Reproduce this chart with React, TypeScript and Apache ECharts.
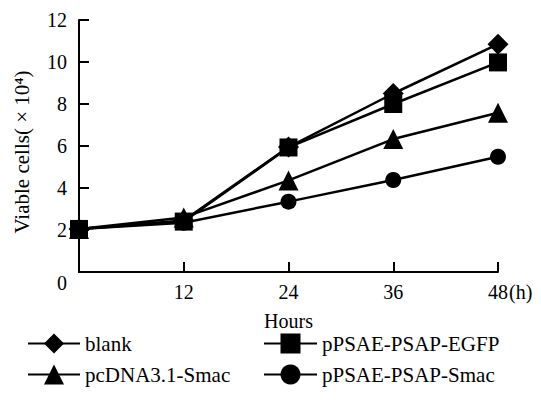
import React, { useEffect, useRef } from "react";
import * as echarts from "echarts";

const hours = [0, 12, 24, 36, 48];
const blank = [2.05, 2.45, 5.95, 8.5, 10.85];
const egfp = [2.05, 2.4, 5.93, 8.0, 9.98];
const pcdna = [2.05, 2.6, 4.36, 6.33, 7.58];
const smac = [2.05, 2.35, 3.35, 4.38, 5.49];
const seriesNames = ["blank", "pPSAE-PSAP-EGFP", "pcDNA3.1-Smac", "pPSAE-PSAP-Smac"];
const xTicks = [0, 12, 24, 36, 48];
const yTicks = [0, 2, 4, 6, 8, 10, 12];

const FONT = "'Liberation Serif', 'Times New Roman', serif";

export default function App() {
  const ref = useRef<HTMLDivElement>(null);
  useEffect(() => {
    if (!ref.current) return;
    const chart = echarts.init(ref.current, undefined, { renderer: "svg" });
    const mk = (name: string, vals: number[], symbol: string, size: number, z: number) => ({
      name,
      type: "line",
      data: hours.map((h, i) => [h, vals[i]]),
      symbol,
      symbolSize: size,
      z,
      itemStyle: { color: "#000" },
      lineStyle: { color: "#000", width: 2.5 },
    });
    const textBase = { fontFamily: FONT, fontSize: 20, color: "#000" };
    const legendBase = {
      orient: "vertical",
      top: 333,
      padding: 0,
      itemHeight: 25,
      itemGap: 10,
      height: 68,
    };
    chart.setOption({
      animation: false,
      backgroundColor: "#fff",
      textStyle: { fontFamily: FONT },
      grid: { left: 79, top: 20, right: 43, bottom: 129, containLabel: false },
      xAxis: {
        type: "value",
        min: xTicks[0],
        max: xTicks[xTicks.length - 1],
        interval: 12,
        name: "Hours",
        nameLocation: "middle",
        nameGap: 39,
        nameTextStyle: textBase,
        axisLine: { lineStyle: { color: "#000", width: 2 } },
        axisTick: { inside: true, length: 10, lineStyle: { color: "#000", width: 2 } },
        axisLabel: { ...textBase, margin: 10, formatter: (v: number) => (v === 0 ? "" : String(v)) },
        splitLine: { show: false },
      },
      yAxis: {
        type: "value",
        min: yTicks[0],
        max: yTicks[yTicks.length - 1],
        interval: 2,
        name: "Viable cells( × 10⁴)",
        nameLocation: "middle",
        nameGap: 47,
        nameTextStyle: { ...textBase, fontSize: 21, padding: [0, 12, 0, 0] },
        axisLine: { lineStyle: { color: "#000", width: 2 } },
        axisTick: { inside: true, length: 10, lineStyle: { color: "#000", width: 2 } },
        axisLabel: { ...textBase, margin: 12, formatter: (v: number) => (v === 0 ? "" : String(v)) },
        splitLine: { show: false },
      },
      legend: [
        {
          ...legendBase,
          data: [seriesNames[0], seriesNames[2]],
          left: 27,
          itemWidth: 52,
          textStyle: { ...textBase, fontSize: 21 },
        },
        {
          ...legendBase,
          data: [seriesNames[1], seriesNames[3]],
          left: 263,
          itemWidth: 53,
          textStyle: { ...textBase, fontSize: 21 },
        },
      ],
      graphic: [
        { type: "text", left: 57, top: 273, style: { text: "0", font: `20px ${FONT}`, fill: "#000" } },
        { type: "text", left: 509, top: 282, style: { text: "(h)", font: `20px ${FONT}`, fill: "#000" } },
      ],
      series: [
        mk(seriesNames[0], blank, "diamond", 21, 2),
        mk(seriesNames[2], pcdna, "triangle", 20, 2),
        mk(seriesNames[3], smac, "circle", 16, 2),
        mk(seriesNames[1], egfp, "rect", 18, 3),
      ],
    });
    return () => chart.dispose();
  }, []);
  return <div ref={ref} style={{ width: 541, height: 401, position: "absolute", left: 0, top: 0 }} />;
}
